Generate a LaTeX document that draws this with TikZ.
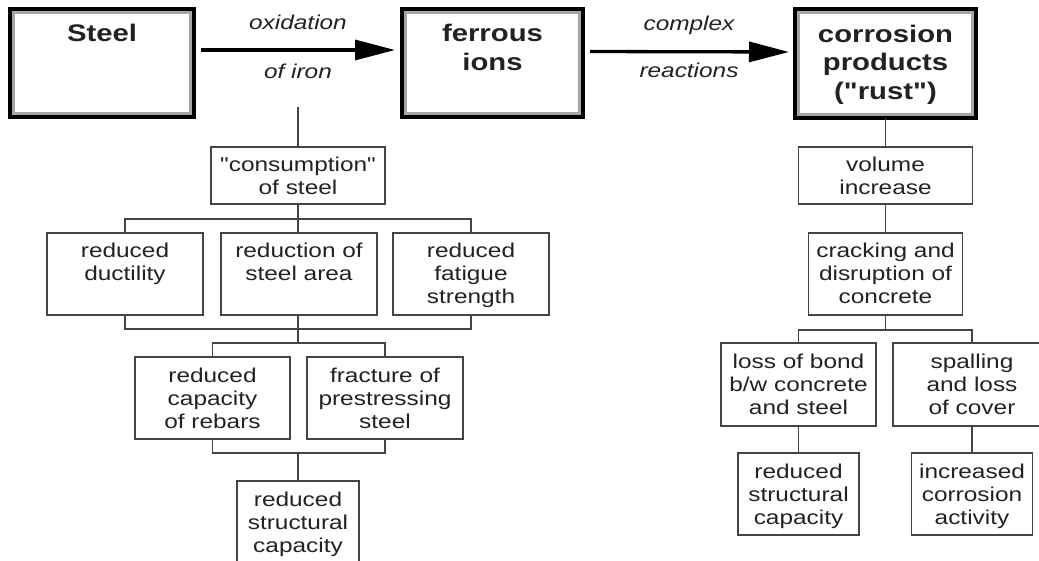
\documentclass[tikz,border=0pt]{standalone}
\usepackage{fontspec}
\newfontfamily\ls[FakeStretch=1.22]{Liberation Sans}
\setmainfont[FakeStretch=1.22]{Liberation Sans}
\usetikzlibrary{arrows.meta,calc}
\definecolor{ink}{HTML}{222222}
\definecolor{linegray}{HTML}{444444}
\begin{document}
\begin{tikzpicture}[x=1pt,y=-1pt,
  box/.style={draw=linegray, line width=1.4pt, inner sep=0pt, outer sep=0pt, fill=white},
  tbox/.style={draw=black, line width=4pt, inner sep=0pt, outer sep=0pt, minimum width=181pt, minimum height=108pt},
  txt/.style={anchor=base, align=center, inner sep=0pt, text=ink, font=\ls\fontsize{20}{23}\selectfont},
  ttxt/.style={anchor=base, align=center, inner sep=0pt, text=ink, font=\ls\fontsize{24}{28.5}\selectfont\bfseries},
  lbl/.style={anchor=base, inner sep=0pt, text=ink, font=\ls\fontsize{20}{23}\selectfont\itshape},
  conn/.style={draw=linegray, line width=1.4pt},
  bigarrow/.style={draw=black, line width=3.3pt, -{Triangle[length=40pt,width=20pt]}}]
\useasboundingbox (0,0) rectangle (1039,561);
\clip (0,0) rectangle (1039,561);
\fill[white] (0,0) rectangle (1039,561);

% title boxes
\node[tbox, minimum width=184pt] (steel) at (102,63) {};
\node[tbox] (ferr) at (492.5,63) {};
\node[tbox, minimum height=109pt] (corr) at (885.5,63.5) {};
\foreach \n in {steel,ferr,corr}{
  \draw[gray!70, line width=2.5pt] ([shift={(3.6,3.6)}]\n.north west) rectangle ([shift={(-3.6,-3.6)}]\n.south east);
}
% (anchor=base is the baseline of the last line)
\node[ttxt] (steel-t) at ([yshift=-33pt]steel.north) {Steel};
\node[ttxt] (ferr-t) at ([yshift=-61.5pt]ferr.north) {ferrous\\ions};
\node[ttxt] (corr-t) at ([yshift=-90.5pt]corr.north) {corrosion\\products\\("rust")};

% arrows
\draw[bigarrow, shorten <=7pt, shorten >=7pt] ([yshift=13pt]steel.east) -- ([yshift=13pt]ferr.west)
  node[lbl, pos=0.5, yshift=20pt] (ox) {oxidation}
  node[lbl, pos=0.5, yshift=-29pt] (oi) {of iron};
\draw[bigarrow, shorten <=7pt, shorten >=6pt] ([yshift=11.5pt]ferr.east) -- ([yshift=11.5pt]corr.west)
  node[lbl, pos=0.5, yshift=21pt] (cx) {complex}
  node[lbl, pos=0.5, yshift=-26pt] (rx) {reactions};

% left tree boxes
\node[box, minimum width=174pt, minimum height=57pt] (cons) at (298,175.5) {};
\node[box, minimum width=156pt, minimum height=82pt] (duct) at (125,274) {};
\node[box, minimum width=156pt, minimum height=82pt] (red) at (299,274) {};
\node[box, minimum width=156pt, minimum height=82pt] (fat) at (471,274) {};
\node[box, minimum width=155pt, minimum height=82pt] (capL) at (212.5,398) {};
\node[box, minimum width=156pt, minimum height=82pt] (frac) at (385,398) {};
\node[box, minimum width=122pt, minimum height=84pt] (rscL) at (298,523) {};

\node[txt] (cons-t) at ([yshift=-48pt]cons.north) {"consumption"\\of steel};
\node[txt] (duct-t) at ([yshift=-48pt]duct.north) {reduced\\ductility};
\node[txt] (red-t) at ([yshift=-48pt]red.north) {reduction of\\steel area};
\node[txt] (fat-t) at ([yshift=-71pt]fat.north) {reduced\\fatigue\\strength};
\node[txt] (capL-t) at ([yshift=-71pt]capL.north) {reduced\\capacity\\of rebars};
\node[txt] (frac-t) at ([yshift=-71pt]frac.north) {fracture of\\prestressing\\steel};
\node[txt] (rscL-t) at ([yshift=-71pt]rscL.north) {reduced\\structural\\capacity};

% right tree boxes
\node[box, minimum width=174pt, minimum height=57pt] (vol) at (885.5,175.5) {};
\node[box, minimum width=154pt, minimum height=82pt] (crack) at (885.5,274) {};
\node[box, minimum width=155pt, minimum height=83pt] (loss) at (798.5,384.5) {};
\node[box, minimum width=158pt, minimum height=83pt] (spall) at (972,384.5) {};
\node[box, minimum width=121pt, minimum height=82pt] (rscR) at (798.5,494) {};
\node[box, minimum width=121pt, minimum height=82pt] (inc) at (972,494) {};

\node[txt] (vol-t) at ([yshift=-48pt]vol.north) {volume\\increase};
\node[txt] (crack-t) at ([yshift=-71pt]crack.north) {cracking and\\disruption of\\concrete};
\node[txt] (loss-t) at ([yshift=-71pt]loss.north) {loss of bond\\b/w concrete\\and steel};
\node[txt] (spall-t) at ([yshift=-71pt]spall.north) {spalling\\and loss\\of cover};
\node[txt] (rscR-t) at ([yshift=-71pt]rscR.north) {reduced\\structural\\capacity};
\node[txt] (inc-t) at ([yshift=-71pt]inc.north) {increased\\corrosion\\activity};

% left connectors
\coordinate (v0) at (298,107);
\draw[conn] (v0) -- (cons.north);
\draw[conn] (cons.south) -- ++(0,15) -| (duct.north);
\draw[conn] (cons.south) -- ++(0,15) -| (fat.north);
\draw[conn] (cons.south) -- (cons.south |- red.north);
\draw[conn] (duct.south) -- ++(0,14) -| (fat.south);
\draw[conn] (red.south -| cons.south) -- ++(0,28) -| (capL.north);
\draw[conn] (red.south -| cons.south) -- ++(0,28) -| (frac.north);
\draw[conn] (capL.south) -- ++(0,14) -| (frac.south);
\draw[conn] (rscL.north) -- ++(0,-28);

% right connectors
\draw[conn] (corr.south) -- (vol.north);
\draw[conn] (vol.south) -- (crack.north);
\draw[conn] (crack.south) -- ++(0,15) -| (loss.north);
\draw[conn] (crack.south) -- ++(0,15) -| (spall.north);
\draw[conn] (loss.south) -- (rscR.north);
\draw[conn] (spall.south) -- (inc.north);
\end{tikzpicture}
\end{document}
